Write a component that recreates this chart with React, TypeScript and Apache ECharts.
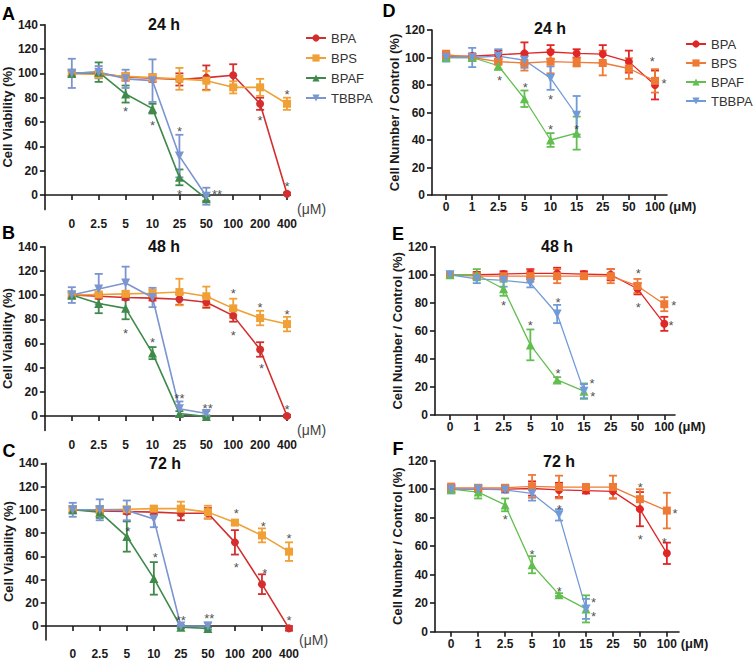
import React, { useEffect, useRef } from 'react';
import * as echarts from 'echarts';

const FONT = '"Liberation Sans", Arial, sans-serif';

// ---------- categories & ticks ----------
const leftCats = ['0', '2.5', '5', '10', '25', '50', '100', '200', '400'];
const rightCats = ['0', '1', '2.5', '5', '10', '15', '25', '50', '100'];
const compounds = ['BPA', 'BPS', 'BPAF', 'TBBPA'];
const leftYTicks = [0, 20, 40, 60, 80, 100, 120, 140];
const rightYTicks = [0, 20, 40, 60, 80, 100, 120];

// ---------- Panel A (24 h, viability) ----------
const aBPA = [100, 100, 97, 96, 95, 96.5, 98.5, 75, 1];
const aBPAsd = [2, 2, 3, 3, 5, 10, 9, 5, 1];
const aBPS = [100, 99, 97.5, 96.5, 95.5, 94, 88.5, 88.5, 75];
const aBPSsd = [2, 3, 3, 3, 9, 8, 5, 7, 5];
const aBPAF = [100, 101, 83, 71, 14.5, -3];
const aBPAFsd = [3, 8, 7, 4, 6.5, 2];
const aTBBPA = [100, 101, 95.5, 94, 32, -1];
const aTBBPAsd = [12, 5, 7.5, 17.5, 17.5, 7];
const aStars: [number, number, string][] = [
  [2, 71, '*'], [3, 60, '*'], [4, 55, '*'], [4, 3, '*'], [5.4, 3, '**'],
  [7, 64, '*'], [8, 85, '*'], [8, 9.6, '*'],
];

// ---------- Panel B (48 h, viability) ----------
const bBPA = [100, 99, 98, 97.5, 96.5, 94, 83, 55, 0];
const bBPAsd = [2, 2, 2, 2, 4.5, 4.5, 5, 6, 1];
const bBPS = [100, 100.5, 101, 101.5, 102.5, 99, 89, 81, 76];
const bBPSsd = [2, 2, 2, 3, 11, 8, 8, 6, 6];
const bBPAF = [100, 93, 89, 52, 2, -0.5];
const bBPAFsd = [3, 8, 9, 5, 2, 1];
const bTBBPA = [100, 105, 110, 98, 6, 2];
const bTBBPAsd = [6.5, 12.5, 13.5, 8, 6, 2];
const bStars: [number, number, string][] = [
  [2, 71, '*'], [3, 63, '*'], [4, 17, '**'], [5.05, 9, '**'], [6, 104, '*'],
  [6, 69, '*'], [7, 92, '*'], [7.05, 42, '*'], [8, 86, '*'], [8, 8, '*'],
];

// ---------- Panel C (72 h, viability) ----------
const cBPA = [100, 99, 98.5, 98, 97, 97, 72, 36, -2];
const cBPAsd = [2, 2, 2, 2, 6, 4.5, 10.5, 8.5, 2];
const cBPS = [100, 100, 100.5, 101, 101, 98, 89, 78, 64];
const cBPSsd = [2, 2, 2, 2, 6, 5.5, 2, 6, 8];
const cBPAF = [100, 98, 77, 41, -1, -2];
const cBPAFsd = [3, 5, 13, 14, 1, 1];
const cTBBPA = [100, 100, 99.5, 92, 0, 0];
const cTBBPAsd = [6, 9, 8.5, 7, 1, 3];
const cStars: [number, number, string][] = [
  [2.05, 84, '*'], [3.05, 61.6, '*'], [4, 7.7, '**'], [5.05, 9, '**'],
  [6.05, 99.5, '*'], [6.05, 53, '*'], [7.05, 88.5, '*'], [7.1, 48, '*'],
  [8, 77.5, '*'], [8, 7.7, '*'],
];

// ---------- Panel D (24 h, cell number) ----------
const dBPA = [101, 101, 102, 103, 104, 103, 102.5, 97, 80];
const dBPAsd = [3, 2, 3, 8, 5, 3, 6.5, 8, 10.5];
const dBPS = [102, 100, 97, 96, 97, 96.5, 96, 92, 83];
const dBPSsd = [3, 2, 2, 5.5, 8.5, 3, 9, 7.5, 8.5];
const dBPAF = [100, 100, 94, 70, 40, 45];
const dBPAFsd = [2, 2, 3, 6, 5, 12];
const dTBBPA = [100, 100, 101, 98, 85, 58];
const dTBBPAsd = [3, 7, 5, 5.5, 8.5, 14];
const dStars: [number, number, string][] = [
  [2.05, 85.5, '*'], [3.03, 80.6, '*'], [4, 71.4, '*'], [4, 50, '*'],
  [5, 50, '*'], [7.9, 99, '*'], [8.35, 83, '*'],
];

// ---------- Panel E (48 h, cell number) ----------
const eBPA = [100, 100, 100.5, 101, 101, 100.5, 100, 90, 65];
const eBPAsd = [2, 2, 2, 3, 4, 2, 4, 4, 5];
const eBPS = [100, 99, 99, 99, 99, 99, 99, 92, 79];
const eBPSsd = [2, 2, 2, 4, 5, 2, 5, 5, 5];
const eBPAF = [100, 100, 90, 50, 25, 17];
const eBPAFsd = [2, 4, 5, 11, 2, 5.5];
const eTBBPA = [100, 97, 96, 94, 72, 17];
const eTBBPAsd = [2, 3, 4.5, 3, 6.5, 5];
const eStars: [number, number, string][] = [
  [2, 80, '*'], [3, 65.7, '*'], [4.03, 82.7, '*'], [4.03, 32, '*'],
  [5.3, 24.5, '*'], [5.33, 15, '*'], [7.03, 103, '*'], [7.03, 79, '*'],
  [8.35, 80, '*'], [8.25, 66, '*'],
];

// ---------- Panel F (72 h, cell number) ----------
const fBPA = [100, 100, 100, 100.5, 99.5, 99, 98.5, 86, 55];
const fBPAsd = [2, 2, 2, 5, 5, 2, 5, 12, 7.5];
const fBPS = [101, 101, 101, 102, 101.5, 101.5, 101.5, 93, 85];
const fBPSsd = [3, 2, 2, 8, 8, 2, 8, 7, 12.5];
const fBPAF = [100, 98, 89, 47, 26, 16];
const fBPAFsd = [2, 4.5, 4.5, 6, 1, 9.5];
const fTBBPA = [100, 100, 99.5, 97, 82, 16];
const fTBBPAsd = [3, 2, 2, 5, 4, 7];
const fStars: [number, number, string][] = [
  [2.01, 80.6, '*'], [3, 56, '*'], [4.01, 88, '*'], [4.01, 30, '*'],
  [5.28, 22.5, '*'], [5.28, 13, '*'], [7.01, 103.5, '*'], [7.01, 67, '*'],
  [8.3, 85, '*'], [7.9, 64.7, '*'],
];

// ---------- styles ----------
const leftColors: Record<string, string> = {
  BPA: '#d42f2f', BPS: '#f0a035', BPAF: '#3f8a4a', TBBPA: '#7b95d0',
};
const rightColors: Record<string, string> = {
  BPA: '#e02626', BPS: '#ef7a35', BPAF: '#62bf4f', TBBPA: '#719ad8',
};
const symbols: Record<string, { s: string; size: number; rot: number }> = {
  BPA: { s: 'circle', size: 8, rot: 0 },
  BPS: { s: 'rect', size: 8, rot: 0 },
  BPAF: { s: 'triangle', size: 9, rot: 0 },
  TBBPA: { s: 'triangle', size: 9, rot: 180 },
};

type Panel = {
  letter: string; title: string; side: 'left' | 'right';
  series: Record<string, [number[], number[]]>;
  stars: [number, number, string][];
  left: number; top: number; width: number; height: number;
  xMin: number; xMax: number; yMin: number; yMax: number;
  letterPos: [number, number]; titlePos: [number, number];
};

const panels: Panel[] = [
  {
    letter: 'A', title: '24 h', side: 'left',
    series: { BPA: [aBPA, aBPAsd], BPS: [aBPS, aBPSsd], BPAF: [aBPAF, aBPAFsd], TBBPA: [aTBBPA, aTBBPAsd] },
    stars: aStars, left: 43.5, top: 24.7, width: 243.5, height: 184.9,
    xMin: -1, xMax: 8, yMin: -12, yMax: 140, letterPos: [8.5, 14], titlePos: [164, 24],
  },
  {
    letter: 'B', title: '48 h', side: 'left',
    series: { BPA: [bBPA, bBPAsd], BPS: [bBPS, bBPSsd], BPAF: [bBPAF, bBPAFsd], TBBPA: [bTBBPA, bTBBPAsd] },
    stars: bStars, left: 43, top: 246.7, width: 244, height: 183.8,
    xMin: -1, xMax: 8, yMin: -12, yMax: 140, letterPos: [8.5, 233], titlePos: [164, 246],
  },
  {
    letter: 'C', title: '72 h', side: 'left',
    series: { BPA: [cBPA, cBPAsd], BPS: [cBPS, cBPSsd], BPAF: [cBPAF, cBPAFsd], TBBPA: [cTBBPA, cTBBPAsd] },
    stars: cStars, left: 45.7, top: 463.3, width: 243.3, height: 185.7,
    xMin: -1, xMax: 8, yMin: -12, yMax: 140, letterPos: [9, 451], titlePos: [165, 463],
  },
  {
    letter: 'D', title: '24 h', side: 'right',
    series: { BPA: [dBPA, dBPAsd], BPS: [dBPS, dBPSsd], BPAF: [dBPAF, dBPAFsd], TBBPA: [dTBBPA, dTBBPAsd] },
    stars: dStars, left: 432, top: 30, width: 235, height: 165,
    xMin: -0.54, xMax: 8.46, yMin: 0, yMax: 120, letterPos: [389, 11], titlePos: [550, 28],
  },
  {
    letter: 'E', title: '48 h', side: 'right',
    series: { BPA: [eBPA, eBPAsd], BPS: [eBPS, eBPSsd], BPAF: [eBPAF, eBPAFsd], TBBPA: [eTBBPA, eTBBPAsd] },
    stars: eStars, left: 435, top: 246.7, width: 240, height: 168.3,
    xMin: -0.56, xMax: 8.4, yMin: 0, yMax: 120, letterPos: [398, 234], titlePos: [557, 246],
  },
  {
    letter: 'F', title: '72 h', side: 'right',
    series: { BPA: [fBPA, fBPAsd], BPS: [fBPS, fBPSsd], BPAF: [fBPAF, fBPAFsd], TBBPA: [fTBBPA, fTBBPAsd] },
    stars: fStars, left: 435, top: 460.7, width: 244, height: 171,
    xMin: -0.6, xMax: 8.45, yMin: 0, yMax: 120, letterPos: [398, 449], titlePos: [559, 461],
  },
];

const AXIS_COLOR = '#1a1a1a';

function buildOption() {
  const grid: any[] = [];
  const xAxis: any[] = [];
  const yAxis: any[] = [];
  const series: any[] = [];
  const graphic: any[] = [];

  panels.forEach((p, i) => {
    const isLeft = p.side === 'left';
    const cats = isLeft ? leftCats : rightCats;
    const xt = cats.map((_, k) => k);
    const yt = isLeft ? leftYTicks : rightYTicks;
    const colors = isLeft ? leftColors : rightColors;

    grid.push({ left: p.left, top: p.top, width: p.width, height: p.height, containLabel: false });

    xAxis.push({
      type: 'value', gridIndex: i, min: p.xMin, max: p.xMax,
      splitLine: { show: false },
      axisLine: { show: true, onZero: true, lineStyle: { color: AXIS_COLOR, width: 1.6 } },
      axisTick: { show: true, customValues: xt, length: 5, lineStyle: { color: AXIS_COLOR, width: 1.6 } },
      axisLabel: {
        show: true, customValues: xt, formatter: (v: number) => cats[Math.round(v)] ?? '',
        margin: isLeft ? 8 : 6, fontWeight: 'bold', fontSize: 12, color: AXIS_COLOR, fontFamily: FONT,
      },
      name: '(μM)', nameLocation: 'end', nameGap: isLeft ? 10 : 1,
      nameTextStyle: isLeft
        ? { fontSize: 14, fontWeight: 'normal', color: '#444', fontFamily: FONT, verticalAlign: 'top', padding: [7, 0, 0, 0] }
        : { fontSize: 13, fontWeight: 'bold', color: AXIS_COLOR, fontFamily: FONT, verticalAlign: 'top', padding: [5, 0, 0, 0] },
    });

    yAxis.push({
      type: 'value', gridIndex: i, min: p.yMin, max: p.yMax,
      splitLine: { show: false },
      axisLine: { show: true, onZero: false, lineStyle: { color: AXIS_COLOR, width: 1.6 } },
      axisTick: { show: true, customValues: yt, length: 5, lineStyle: { color: AXIS_COLOR, width: 1.6 } },
      axisLabel: {
        show: true, customValues: yt, margin: 7, fontWeight: 'bold', fontSize: 12, color: AXIS_COLOR, fontFamily: FONT,
      },
      name: isLeft ? 'Cell Viability (%)' : 'Cell Number / Control (%)',
      nameLocation: 'middle', nameGap: isLeft ? 23 : 26,
      nameTextStyle: { fontSize: 13, fontWeight: 'bold', color: AXIS_COLOR, fontFamily: FONT },
    });

    compounds.forEach((c) => {
      const [mean, sd] = p.series[c];
      const color = colors[c];
      const lw = isLeft ? 1.6 : 1.3;
      series.push({
        type: 'custom', xAxisIndex: i, yAxisIndex: i, silent: true, z: 2,
        encode: { x: 0, y: [1, 2] },
        data: mean.map((m, k) => [k, m - sd[k], m + sd[k]]),
        renderItem: (_params: any, api: any) => {
          const x = api.value(0);
          const lo = api.coord([x, api.value(1)]);
          const hi = api.coord([x, api.value(2)]);
          const w = 4;
          const style = { stroke: color, lineWidth: 1.8, fill: 'none' };
          return {
            type: 'group',
            children: [
              { type: 'line', shape: { x1: lo[0], y1: lo[1], x2: hi[0], y2: hi[1] }, style },
              { type: 'line', shape: { x1: lo[0] - w, y1: lo[1], x2: lo[0] + w, y2: lo[1] }, style },
              { type: 'line', shape: { x1: hi[0] - w, y1: hi[1], x2: hi[0] + w, y2: hi[1] }, style },
            ],
          };
        },
      });
      series.push({
        type: 'line', name: isLeft ? c : c + '-R', xAxisIndex: i, yAxisIndex: i, z: 3,
        data: mean.map((m, k) => [k, m]),
        symbol: symbols[c].s, symbolSize: symbols[c].size, symbolRotate: symbols[c].rot,
        showAllSymbol: true,
        lineStyle: { color, width: lw },
        itemStyle: { color },
        emphasis: { disabled: true },
        silent: true,
      });
    });

    series.push({
      type: 'scatter', xAxisIndex: i, yAxisIndex: i, z: 5, silent: true,
      symbolSize: 1, itemStyle: { color: 'rgba(0,0,0,0)' },
      data: p.stars.map(([x, y, t]) => ({ value: [x, y], name: t })),
      label: {
        show: true, position: 'inside', formatter: '{b}', offset: [0, 3],
        fontSize: 13, lineHeight: 8, color: '#222', fontFamily: FONT,
      },
    });

    graphic.push({
      type: 'text', x: p.letterPos[0], y: p.letterPos[1], silent: true,
      style: { text: p.letter, fontSize: 18, fontWeight: 'bold', fontFamily: FONT, fill: '#000', align: 'center', verticalAlign: 'middle' },
    });
    graphic.push({
      type: 'text', x: p.titlePos[0], y: p.titlePos[1], silent: true,
      style: { text: p.title, fontSize: 16, fontWeight: 'bold', fontFamily: FONT, fill: '#111', align: 'center', verticalAlign: 'middle' },
    });
  });

  const legendCommon = {
    orient: 'vertical', itemWidth: 20, itemHeight: 9, padding: 0, selectedMode: false,
    textStyle: { fontSize: 13, color: '#333', fontFamily: FONT },
  };

  return {
    animation: false,
    backgroundColor: '#ffffff',
    grid, xAxis, yAxis, series, graphic,
    legend: [
      { ...legendCommon, data: compounds, left: 305, top: 31.5, itemGap: 7 },
      {
        ...legendCommon, data: compounds.map((c) => c + '-R'), left: 685, top: 37.5, itemGap: 6,
        formatter: (n: string) => n.replace('-R', ''),
      },
    ],
  };
}

export default function App() {
  const ref = useRef<HTMLDivElement>(null);
  useEffect(() => {
    if (!ref.current) return;
    const chart = echarts.init(ref.current, undefined, { renderer: 'svg' });
    chart.setOption(buildOption() as any);
    return () => chart.dispose();
  }, []);
  return (
    <div
      ref={ref}
      style={{ position: 'fixed', left: 0, top: 0, width: 754, height: 660, background: '#fff' }}
    />
  );
}
